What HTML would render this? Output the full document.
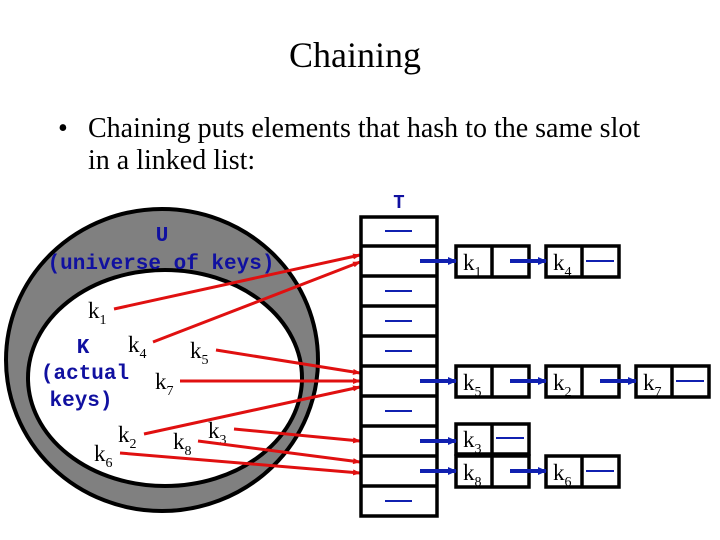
<!DOCTYPE html>
<html><head><style>
body{margin:0;background:#fff;width:720px;height:540px;overflow:hidden;position:relative;font-family:"Liberation Serif",serif}
.t{position:absolute;white-space:nowrap}
</style></head><body>
<div class="t" style="left:0;width:710px;text-align:center;top:34px;font-size:36px">Chaining</div>
<div class="t" style="left:58px;top:113px;font-size:28px">•</div>
<div class="t" style="left:88px;top:113px;font-size:28px;line-height:32px">Chaining puts elements that hash to the same slot<br>in a linked list:</div>
<svg width="720" height="540" style="position:absolute;left:0;top:0" font-family="Liberation Serif, serif">
<defs>
<marker id="r" markerWidth="8" markerHeight="6" refX="7" refY="3" orient="auto" markerUnits="userSpaceOnUse"><path d="M0,0L8,3L0,6z" fill="#e01010"/></marker>
<marker id="b" markerWidth="9" markerHeight="8" refX="8" refY="4" orient="auto" markerUnits="userSpaceOnUse"><path d="M0,0L9,4L0,8z" fill="#1020b0"/></marker>
</defs>
<ellipse cx="162" cy="360" rx="156" ry="151" fill="#808080" stroke="#000" stroke-width="4"/>
<ellipse cx="165" cy="378" rx="137" ry="108" fill="#fff" stroke="#000" stroke-width="4"/>
<g font-family="Liberation Mono, monospace" font-weight="bold" fill="#1010a0" font-size="21" text-anchor="middle">
<text x="162" y="241">U</text>
<text x="161" y="269">(universe of keys)</text>
<text x="83" y="353">K</text>
<text x="85" y="379">(actual</text>
<text x="81" y="406">keys)</text>
<text x="399" y="208" font-size="19">T</text>
</g>
<g font-size="23" fill="#000">
<text x="88" y="318">k<tspan font-size="14" dy="6">1</tspan></text>
<text x="128" y="352">k<tspan font-size="14" dy="6">4</tspan></text>
<text x="190" y="358">k<tspan font-size="14" dy="6">5</tspan></text>
<text x="155" y="389">k<tspan font-size="14" dy="6">7</tspan></text>
<text x="118" y="442">k<tspan font-size="14" dy="6">2</tspan></text>
<text x="94" y="461">k<tspan font-size="14" dy="6">6</tspan></text>
<text x="173" y="449">k<tspan font-size="14" dy="6">8</tspan></text>
<text x="208" y="438">k<tspan font-size="14" dy="6">3</tspan></text>
</g>
<g stroke="#e01010" stroke-width="3" marker-end="url(#r)">
<line x1="114" y1="309" x2="360" y2="255"/>
<line x1="153" y1="342" x2="360" y2="262"/>
<line x1="216" y1="350" x2="360" y2="373"/>
<line x1="180" y1="381" x2="360" y2="381"/>
<line x1="144" y1="434" x2="360" y2="387"/>
<line x1="234" y1="429" x2="360" y2="441"/>
<line x1="198" y1="441" x2="360" y2="462"/>
<line x1="120" y1="453" x2="360" y2="473"/>
</g>
<line x1="360" y1="217" x2="438" y2="217" stroke="#000" stroke-width="1.5"/>
<g fill="none" stroke="#000" stroke-width="3.5">
<rect x="361" y="217" width="76" height="299"/>
<path d="M361 246H437M361 276H437M361 306H437M361 336H437M361 366H437M361 396H437M361 426H437M361 456H437M361 486H437"/>
<rect x="456" y="246" width="73" height="31"/><path d="M492 246V277"/>
<rect x="546" y="246" width="73" height="31"/><path d="M582 246V277"/>
<rect x="456" y="366" width="73" height="31"/><path d="M492 366V397"/>
<rect x="546" y="366" width="73" height="31"/><path d="M582 366V397"/>
<rect x="636" y="366" width="73" height="31"/><path d="M672 366V397"/>
<rect x="456" y="424" width="73" height="30"/><path d="M492 424V454"/>
<rect x="456" y="456" width="73" height="31"/><path d="M492 456V487"/>
<rect x="546" y="456" width="73" height="31"/><path d="M582 456V487"/>
</g>
<g stroke="#1020b0" stroke-width="2">
<path d="M385 231H412M385 291H412M385 321H412M385 351H412M385 411H412M385 501H412M586 261H614M676 381H704M496 438H524M586 471H614"/>
</g>
<g stroke="#1020b0" stroke-width="4" marker-end="url(#b)">
<line x1="420" y1="261" x2="456" y2="261"/>
<line x1="510" y1="261" x2="546" y2="261"/>
<line x1="420" y1="381" x2="456" y2="381"/>
<line x1="510" y1="381" x2="546" y2="381"/>
<line x1="600" y1="381" x2="636" y2="381"/>
<line x1="420" y1="441" x2="456" y2="441"/>
<line x1="420" y1="471" x2="456" y2="471"/>
<line x1="510" y1="471" x2="546" y2="471"/>
</g>
<g font-size="23" fill="#000">
<text x="463" y="270">k<tspan font-size="14" dy="6">1</tspan></text>
<text x="553" y="270">k<tspan font-size="14" dy="6">4</tspan></text>
<text x="463" y="390">k<tspan font-size="14" dy="6">5</tspan></text>
<text x="553" y="390">k<tspan font-size="14" dy="6">2</tspan></text>
<text x="643" y="390">k<tspan font-size="14" dy="6">7</tspan></text>
<text x="463" y="447">k<tspan font-size="14" dy="6">3</tspan></text>
<text x="463" y="480">k<tspan font-size="14" dy="6">8</tspan></text>
<text x="553" y="480">k<tspan font-size="14" dy="6">6</tspan></text>
</g>
</svg>
</body></html>
